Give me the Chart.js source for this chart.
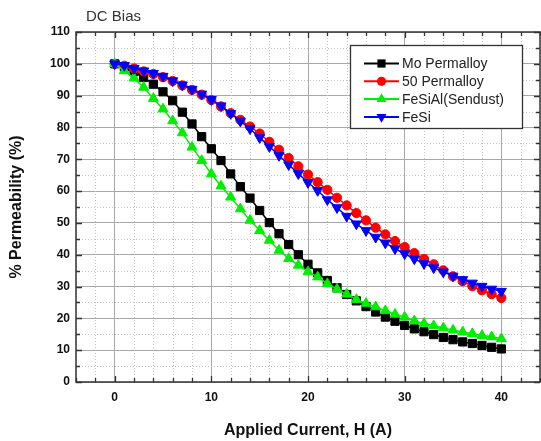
<!DOCTYPE html>
<html>
<head>
<meta charset="utf-8">
<title>DC Bias</title>
<script src="https://cdn.jsdelivr.net/npm/chart.js@4.4.1/dist/chart.umd.min.js"></script>
<style>
    html, body { margin: 0; padding: 0; background: #ffffff; }
    #wrap { position: relative; width: 541px; height: 441px; }
</style>
</head>
<body>
<div id="wrap"><canvas id="biasChart" width="541" height="441"></canvas></div>
<script>
// Corrente aplicada (A)
const currents = [0, 1, 2, 3, 4, 5, 6, 7, 8, 9, 10, 11, 12, 13, 14, 15, 16, 17, 18, 19, 20,
    21, 22, 23, 24, 25, 26, 27, 28, 29, 30, 31, 32, 33, 34, 35, 36, 37, 38, 39, 40];

// Permeabilidade relativa (%) por material
const moPermalloy = [100, 99.0, 97.5, 95.7, 93.6, 91.2, 88.4, 84.8, 81.1, 77.1, 73.3,
    69.6, 65.4, 61.4, 57.8, 53.9, 50.1, 46.6, 43.2, 40.0, 37.0,
    34.3, 31.9, 29.6, 27.5, 25.5, 23.7, 22.0, 20.4, 19.1, 17.8,
    16.7, 15.8, 14.9, 14.0, 13.3, 12.6, 12.1, 11.5, 10.9, 10.4];
const permalloy50 = [100, 99.4, 98.5, 97.6, 96.8, 95.8, 94.6, 93.2, 91.8, 90.3, 88.6,
    86.6, 84.5, 82.4, 80.3, 78.1, 75.5, 73.0, 70.4, 67.8, 65.2,
    62.8, 60.4, 57.9, 55.5, 53.1, 50.8, 48.5, 46.4, 44.3, 42.4,
    40.5, 38.7, 37.0, 35.1, 33.2, 31.7, 30.1, 28.8, 27.6, 26.4];
const sendust = [100, 97.8, 95.5, 92.6, 89.1, 85.8, 82.1, 78.3, 73.8, 69.6, 65.4,
    61.6, 58.1, 54.4, 50.8, 47.6, 44.5, 41.4, 38.8, 36.7, 34.6,
    33.0, 30.9, 29.2, 27.6, 25.9, 24.7, 23.6, 22.4, 21.3, 20.4,
    19.2, 18.4, 17.7, 17.0, 16.3, 15.7, 15.2, 14.6, 14.2, 13.6];
const feSi = [100, 99.5, 98.6, 97.8, 97.0, 96.1, 94.7, 93.4, 92.0, 90.5, 88.8,
    86.8, 84.4, 82.0, 79.6, 76.8, 74.0, 71.2, 68.3, 65.5, 62.7,
    60.2, 57.3, 54.8, 52.1, 49.7, 47.6, 45.5, 43.7, 41.9, 40.3,
    38.7, 37.2, 35.9, 34.6, 33.3, 32.2, 31.1, 30.1, 29.2, 28.5];

const seriesNames = ['Mo Permalloy', '50 Permalloy', 'FeSiAl(Sendust)', 'FeSi'];

const FONT = 'Arial, "Liberation Sans", sans-serif';

function toPoints(values) {
    return currents.map((c, i) => ({ x: c, y: values[i] }));
}

function makeDataset(label, values, color, style, rotation, radius, order) {
    return {
        label: label,
        data: toPoints(values),
        borderColor: color,
        backgroundColor: color,
        borderWidth: 1.5,
        pointStyle: style,
        rotation: rotation,
        pointRadius: radius,
        pointBackgroundColor: color,
        pointBorderColor: color,
        pointBorderWidth: 1,
        tension: 0,
        order: order
    };
}

// desenha um marcador igual ao da série (usado na legenda)
function drawMarker(ctx, style, r, rotation, x, y) {
    ctx.beginPath();
    if (style === 'rect') {
        const s = r * Math.SQRT1_2;
        ctx.rect(x - s, y - s, 2 * s, 2 * s);
    } else if (style === 'circle') {
        ctx.arc(x, y, r, 0, Math.PI * 2);
    } else {
        const base = rotation * Math.PI / 180;
        for (let k = 0; k < 3; k++) {
            const a = base + k * 2 * Math.PI / 3;
            const px = x + Math.sin(a) * r;
            const py = y - Math.cos(a) * r;
            if (k === 0) ctx.moveTo(px, py); else ctx.lineTo(px, py);
        }
        ctx.closePath();
    }
    ctx.fill();
}

// grade secundária pontilhada, moldura com ticks internos, legenda e título
const plotDecor = {
    id: 'plotDecor',
    beforeDatasetsDraw(chart) {
        const { ctx, chartArea: a, scales: { x, y } } = chart;
        ctx.save();
        ctx.strokeStyle = '#c4c4c4';
        ctx.lineWidth = 1;
        ctx.setLineDash([1, 2]);
        x.ticks.forEach(t => {
            if (t.value % 10 === 0) return;
            const px = Math.round(x.getPixelForValue(t.value)) + 0.5;
            ctx.beginPath(); ctx.moveTo(px, a.top); ctx.lineTo(px, a.bottom); ctx.stroke();
        });
        y.ticks.forEach(t => {
            if (t.value % 10 === 0) return;
            const py = Math.round(y.getPixelForValue(t.value)) + 0.5;
            ctx.beginPath(); ctx.moveTo(a.left, py); ctx.lineTo(a.right, py); ctx.stroke();
        });
        ctx.restore();
    },
    afterDatasetsDraw(chart) {
        const { ctx, chartArea: a, scales: { x, y } } = chart;
        ctx.save();
        ctx.strokeStyle = '#333333';
        ctx.lineWidth = 1.3;
        ctx.beginPath();
        x.ticks.forEach(t => {
            const px = Math.round(x.getPixelForValue(t.value)) + 0.5;
            const len = t.value % 10 === 0 ? 6 : 4;
            ctx.moveTo(px, a.bottom); ctx.lineTo(px, a.bottom - len);
            ctx.moveTo(px, a.top); ctx.lineTo(px, a.top + len);
        });
        y.ticks.forEach(t => {
            const py = Math.round(y.getPixelForValue(t.value)) + 0.5;
            const len = t.value % 10 === 0 ? 6 : 4;
            ctx.moveTo(a.left, py); ctx.lineTo(a.left + len, py);
            ctx.moveTo(a.right, py); ctx.lineTo(a.right - len, py);
        });
        ctx.stroke();
        ctx.lineWidth = 1.5;
        ctx.strokeRect(a.left, a.top, a.right - a.left, a.bottom - a.top);

        // legenda
        const box = { left: 350, top: 45, width: 172, height: 83 };
        ctx.fillStyle = '#ffffff';
        ctx.fillRect(box.left, box.top, box.width, box.height);
        ctx.strokeStyle = '#333333';
        ctx.lineWidth = 1.3;
        ctx.strokeRect(box.left + 0.5, box.top + 0.5, box.width, box.height);
        ctx.font = '14px ' + FONT;
        ctx.textBaseline = 'middle';
        chart.data.datasets.forEach((ds, i) => {
            const rowY = box.top + 18.5 + i * 17.8;
            ctx.strokeStyle = ds.borderColor;
            ctx.lineWidth = 2;
            ctx.beginPath();
            ctx.moveTo(box.left + 14, rowY);
            ctx.lineTo(box.left + 49, rowY);
            ctx.stroke();
            ctx.fillStyle = ds.borderColor;
            drawMarker(ctx, ds.pointStyle, ds.pointRadius, ds.rotation, box.left + 31.5, rowY);
            ctx.fillStyle = '#222222';
            ctx.fillText(ds.label, box.left + 52, rowY + 1);
        });

        ctx.fillStyle = '#333333';
        ctx.font = '15px ' + FONT;
        ctx.textAlign = 'left';
        ctx.fillText('DC Bias', 86, 17);
        ctx.restore();
    }
};

const ctx = document.getElementById('biasChart').getContext('2d');
const chart = new Chart(ctx, {
    type: 'line',
    data: {
        datasets: [
            makeDataset(seriesNames[0], moPermalloy, '#000000', 'rect', 0, 5.8, 4),
            makeDataset(seriesNames[1], permalloy50, '#ff0000', 'circle', 0, 4.6, 3),
            makeDataset(seriesNames[2], sendust, '#00ee00', 'triangle', 0, 5.8, 2),
            makeDataset(seriesNames[3], feSi, '#0000ff', 'triangle', 180, 5.8, 1)
        ]
    },
    options: {
        responsive: false,
        animation: false,
        layout: { autoPadding: false, padding: { top: 32, right: 1, left: 0, bottom: 0 } },
        plugins: {
            legend: { display: false },
            tooltip: { enabled: false },
            title: { display: false }
        },
        scales: {
            x: {
                type: 'linear',
                min: -4,
                max: 44,
                afterFit: s => { s.height = 59; },
                ticks: {
                    stepSize: 2,
                    autoSkip: false,
                    maxRotation: 0,
                    padding: 0,
                    color: '#111111',
                    font: { family: FONT, size: 12, weight: 'bold' },
                    callback: v => (v % 10 === 0 && v >= 0 && v <= 40) ? v : ''
                },
                grid: {
                    drawTicks: true,
                    tickLength: 8,
                    tickColor: 'rgba(0,0,0,0)',
                    color: c => (c.tick && c.tick.value % 10 === 0) ? '#a8a8a8' : 'rgba(0,0,0,0)',
                    lineWidth: 1
                },
                border: { display: false },
                title: {
                    display: true,
                    text: 'Applied Current, H (A)',
                    color: '#111111',
                    font: { family: FONT, size: 16, weight: 'bold' },
                    padding: { top: 0, bottom: 1 }
                }
            },
            y: {
                min: 0,
                max: 110,
                afterFit: s => { s.width = 76; },
                ticks: {
                    stepSize: 5,
                    autoSkip: false,
                    padding: 6,
                    color: '#111111',
                    font: { family: FONT, size: 12, weight: 'bold' },
                    callback: v => v % 10 === 0 ? v : ''
                },
                grid: {
                    drawTicks: false,
                    color: c => (c.tick && c.tick.value % 10 === 0) ? '#a8a8a8' : 'rgba(0,0,0,0)',
                    lineWidth: 1
                },
                border: { display: false },
                title: {
                    display: true,
                    text: '% Permeability (%)',
                    color: '#111111',
                    font: { family: FONT, size: 16, weight: 'bold' },
                    padding: { top: 7, bottom: 0 }
                }
            }
        }
    },
    plugins: [plotDecor]
});
</script>
</body>
</html>
